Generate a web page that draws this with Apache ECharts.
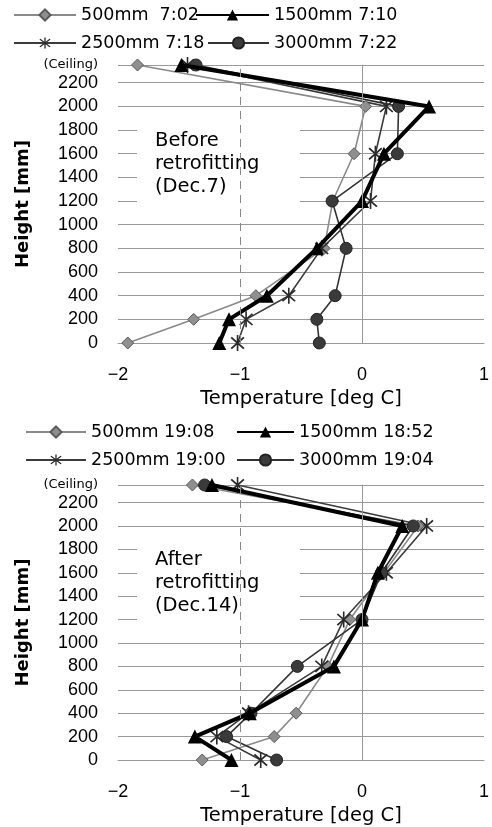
<!DOCTYPE html>
<html>
<head>
<meta charset="utf-8">
<script src="https://cdn.jsdelivr.net/npm/echarts@6/dist/echarts.min.js"></script>
<style>html,body{margin:0;padding:0;background:#fff;}#c{width:492px;height:827px;}</style>
</head>
<body>
<div id="c"></div>
<script>
// ---- data ----
const heights = [0, 200, 400, 800, 1200, 1600, 2000, 2350];
const ceilingValue = 2350;
const xTicks = [-2, -1, 0, 1];
const yTickStep = 200;

const namesBefore = ['500mm  7:02', '1500mm 7:10', '2500mm 7:18', '3000mm 7:22'];
const before500  = [-1.92, -1.38, -0.87, -0.31, -0.24, -0.065, 0.03, -1.84];
const before1500 = [-1.17, -1.09, -0.78, -0.37, 0.00, 0.18, 0.55, -1.48];
const before2500 = [-1.02, -0.95, -0.60, -0.33, 0.07, 0.11, 0.20, -1.43];
const before3000 = [-0.35, -0.37, -0.22, -0.13, -0.245, 0.29, 0.30, -1.36];

const namesAfter = ['500mm 19:08', '1500mm 18:52', '2500mm 19:00', '3000mm 19:04'];
const after500  = [-1.31, -0.72, -0.54, -0.28, -0.10, 0.18, 0.46, -1.39];
const after1500 = [-1.07, -1.37, -0.92, -0.23, 0.00, 0.13, 0.33, -1.23];
const after2500 = [-0.83, -1.19, -0.93, -0.33, -0.15, 0.20, 0.53, -1.02];
const after3000 = [-0.70, -1.11, -0.91, -0.53, 0.00, 0.16, 0.42, -1.29];

const labelBefore = 'Before\nretrofitting\n(Dec.7)';
const labelAfter = 'After\nretrofitting\n(Dec.14)';
const xName = 'Temperature [deg C]';
const yName = 'Height [mm]';
const ceilingLabel = '(Ceiling)';

// ---- styles ----
const FONT = '"DejaVu Sans", sans-serif';
const TICKFONT = '"Liberation Sans", Arial, sans-serif';
const STAR = 'path://M-0.9,-10 L0.9,-10 L0.9,10 L-0.9,10 Z M-6.3,-7.7 L7.7,6.3 L6.3,7.7 L-7.7,-6.3 Z M7.7,-6.3 L-6.3,7.7 L-7.7,6.3 L6.3,-7.7 Z';
const styles = [
  {symbol: 'diamond', symbolSize: 12, line: {color: '#8a8a8a', width: 1.6}, item: {color: '#8f8f8f', borderColor: '#5a5a5a', borderWidth: 1}},
  {symbol: 'triangle', symbolSize: 14, line: {color: '#000', width: 4}, item: {color: '#000', borderColor: '#000', borderWidth: 0}},
  {symbol: STAR, symbolSize: [14, 16], line: {color: '#3c3c3c', width: 1.6}, item: {color: '#2a2a2a', borderColor: '#2a2a2a', borderWidth: 0}},
  {symbol: 'circle', symbolSize: 12, line: {color: '#333', width: 1.6}, item: {color: '#3a3a3a', borderColor: '#222', borderWidth: 1}}
];

function pairs(xs) { return xs.map((v, i) => [v, heights[i]]); }

function makeSeries(names, arrs, gi) {
  const out = arrs.map((arr, k) => ({
    name: names[k], type: 'line', xAxisIndex: gi, yAxisIndex: gi,
    data: pairs(arr), symbol: styles[k].symbol, symbolSize: styles[k].symbolSize,
    showAllSymbol: true, lineStyle: styles[k].line, itemStyle: styles[k].item,
    z: k === 1 ? 4 : 3, animation: false
  }));
  out.push({
    type: 'line', xAxisIndex: gi, yAxisIndex: gi, data: [], z: 0.5, silent: true, animation: false,
    markLine: {
      silent: true, symbol: ['none', 'none'], label: {show: false}, animation: false,
      data: [
        {xAxis: -1, lineStyle: {color: '#888', width: 1, type: [8, 6]}},
        {xAxis: 0, lineStyle: {color: '#999', width: 1, type: 'solid'}}
      ]
    }
  });
  return out;
}

function xAxis(gi) {
  return {
    gridIndex: gi, type: 'value', min: xTicks[0], max: xTicks[xTicks.length - 1], interval: 1,
    axisLine: {show: true, onZero: false, lineStyle: {color: '#999', width: 1}},
    axisTick: {show: false}, splitLine: {show: false},
    axisLabel: {margin: 23, fontSize: 18, color: '#000', fontFamily: TICKFONT,
      formatter: v => String(v).replace('-', '\u2212')},
    name: xName, nameLocation: 'middle', nameGap: 46,
    nameTextStyle: {fontSize: 19.5, color: '#000', fontFamily: FONT}
  };
}
function yAxis(gi) {
  return {
    gridIndex: gi, type: 'value', min: 0, max: ceilingValue, interval: yTickStep,
    axisLine: {show: true, lineStyle: {color: '#aaa', width: 1}},
    axisTick: {show: false},
    splitLine: {show: true, lineStyle: {color: '#999', width: 1}},
    axisLabel: {margin: 20, fontSize: 18, color: '#000', fontFamily: TICKFONT, showMaxLabel: true,
      formatter: v => v === ceilingValue ? '{c|' + ceilingLabel + '}' : String(v),
      rich: {c: {fontSize: 13, color: '#000', fontFamily: FONT}}},
    name: yName, nameLocation: 'middle', nameGap: 76, nameRotate: 90,
    nameTextStyle: {fontSize: 18, fontWeight: 'bold', color: '#000', fontFamily: FONT}
  };
}

function legend(name, left, top, w) {
  return {data: [name], left: left, top: top, padding: 0, itemWidth: w, itemHeight: 14, itemGap: 0,
    selectedMode: false, textStyle: {fontSize: 17.5, color: '#000', fontFamily: FONT}};
}

const chart = echarts.init(document.getElementById('c'), null, {renderer: 'canvas'});
chart.setOption({
  animation: false,
  backgroundColor: '#fff',
  grid: [
    {left: 118, right: 6, top: 65, height: 278},
    {left: 118, right: 6, top: 485, height: 277}
  ],
  xAxis: [xAxis(0), xAxis(1)],
  yAxis: [yAxis(0), yAxis(1)],
  legend: [
    legend(namesBefore[0], 13, 6, 62),
    legend(namesBefore[1], 195, 6, 73),
    legend(namesBefore[2], 13, 34, 62),
    legend(namesBefore[3], 207, 34, 61),
    legend(namesAfter[0], 25, 423, 60),
    legend(namesAfter[1], 236, 423, 57),
    legend(namesAfter[2], 25, 451, 60),
    legend(namesAfter[3], 236, 451, 57)
  ],
  graphic: [
    {type: 'rect', left: 137, top: 120, z: 1, shape: {width: 163, height: 97}, style: {fill: '#fff'}},
    {type: 'text', left: 155, top: 129, z: 1, style: {text: labelBefore, font: '19.5px ' + FONT, lineHeight: 23, fill: '#000'}},
    {type: 'rect', left: 137, top: 537, z: 1, shape: {width: 163, height: 99}, style: {fill: '#fff'}},
    {type: 'text', left: 155, top: 548, z: 1, style: {text: labelAfter, font: '19.5px ' + FONT, lineHeight: 23, fill: '#000'}}
  ],
  series: [].concat(
    makeSeries(namesBefore, [before500, before1500, before2500, before3000], 0),
    makeSeries(namesAfter, [after500, after1500, after2500, after3000], 1)
  )
});
</script>
</body>
</html>
